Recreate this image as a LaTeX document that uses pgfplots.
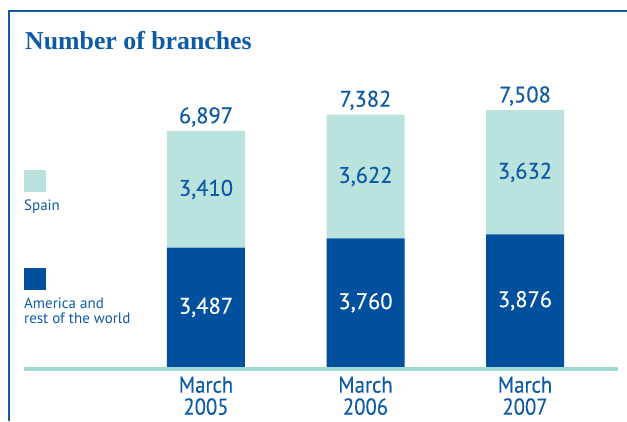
\documentclass[border=0pt]{standalone}
\usepackage{pgfplots}
\pgfplotsset{compat=1.18}
\usepackage{fontspec}
\setmainfont{PT Sans}
\newfontfamily\titlefont{Liberation Serif}
\newfontfamily\numfont{PT Sans}[FakeBold=0.3]
\newfontfamily\catfont{PT Sans}[FakeStretch=0.9, FakeBold=0.2]
\definecolor{dkblue}{HTML}{00509D}
\definecolor{ltteal}{HTML}{BAE3DD}
\definecolor{baseteal}{HTML}{A0D9D1}
\definecolor{txtblue}{HTML}{0D5AA7}
\definecolor{border}{HTML}{1559A5}
\begin{document}
\begin{tikzpicture}[x=1pt,y=1pt]
\useasboundingbox (0,0) rectangle (627,421);
% frame
\draw[border, line width=2.2pt] (9,0) -- (9,410) -- (627,410);
\node[anchor=base west, inner sep=0, text=txtblue, font=\titlefont\bfseries\fontsize{25.8}{26}\selectfont] at (25,371) {Number of branches};
% legend
\fill[ltteal] (24,229) rectangle (46,251);
\node[anchor=west, inner sep=0, text=txtblue, font=\fontsize{15}{15}\selectfont] at (24,214) {Spain};
\fill[dkblue] (24,131) rectangle (46,153);
\node[anchor=north west, inner sep=0, align=left, text=txtblue, font=\fontsize{15}{15}\selectfont] at (24,123) {America and\\rest of the world};
\begin{axis}[
  at={(24pt,54pt)}, anchor=south west,
  scale only axis, width=594pt, height=357pt,
  xmin=-1.141, xmax=2.583, ymin=0, ymax=10439,
  ybar stacked, bar width=78pt,
  axis line style={draw=none},
  ytick=\empty,
  xtick={0,1,2},
  xticklabels={March\\2005,March\\2006,March\\2007},
  tick style={draw=none},
  xticklabel style={align=center, text=txtblue, font=\catfont\fontsize{23}{22}\selectfont, yshift=-6pt},
  clip=false,
]
\addplot[fill=dkblue, draw=none] coordinates {(0,3487) (1,3760) (2,3876)};
\addplot[fill=ltteal, draw=none] coordinates {(0,3410) (1,3622) (2,3632)};
\end{axis}
\draw[baseteal, line width=3.6pt] (24,52.1) -- (618,52.1);
\begin{axis}[
  at={(24pt,54pt)}, anchor=south west,
  scale only axis, width=594pt, height=357pt,
  xmin=-1.141, xmax=2.583, ymin=0, ymax=10439,
  hide axis, clip=false,
]
\addplot[draw=none, mark=none, point meta=explicit symbolic,
  nodes near coords,
  nodes near coords style={anchor=center, text=white, font=\numfont\fontsize{22.5}{22}\selectfont}]
  coordinates {(0,1743.5) [3{,}487] (1,1880) [3{,}760] (2,1938) [3{,}876]};
\addplot[draw=none, mark=none, point meta=explicit symbolic,
  nodes near coords,
  nodes near coords style={anchor=center, text=txtblue, font=\numfont\fontsize{22.5}{22}\selectfont}]
  coordinates {(0,5192) [3{,}410] (1,5571) [3{,}622] (2,5692) [3{,}632]};
\addplot[draw=none, mark=none, point meta=explicit symbolic,
  nodes near coords,
  nodes near coords style={anchor=south, yshift=1pt, text=txtblue, font=\numfont\fontsize{22.5}{22}\selectfont}]
  coordinates {(0,6897) [6{,}897] (1,7382) [7{,}382] (2,7508) [7{,}508]};
\end{axis}
\end{tikzpicture}
\end{document}
